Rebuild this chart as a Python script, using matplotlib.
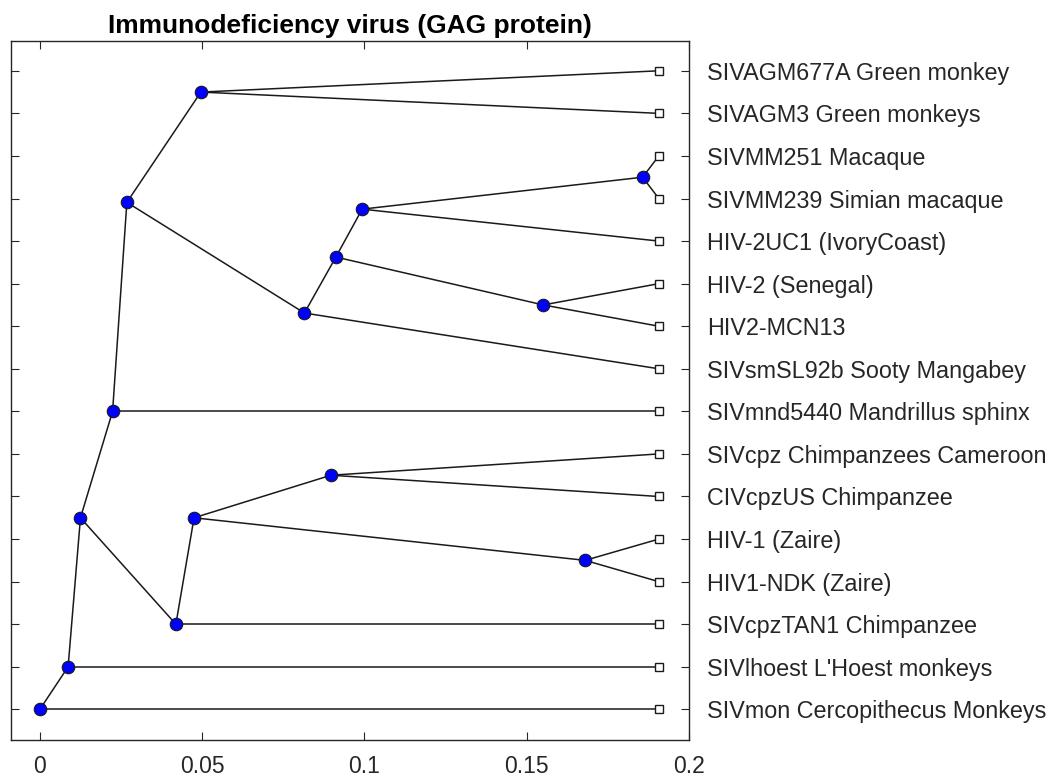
import numpy as np
import matplotlib.pyplot as plt

leaf_names = [
    "SIVAGM677A Green monkey",
    "SIVAGM3 Green monkeys",
    "SIVMM251 Macaque",
    "SIVMM239 Simian macaque",
    "HIV-2UC1 (IvoryCoast)",
    "HIV-2 (Senegal)",
    "HIV2-MCN13",
    "SIVsmSL92b Sooty Mangabey",
    "SIVmnd5440 Mandrillus sphinx",
    "SIVcpz Chimpanzees Cameroon",
    "CIVcpzUS Chimpanzee",
    "HIV-1 (Zaire)",
    "HIV1-NDK (Zaire)",
    "SIVcpzTAN1 Chimpanzee",
    "SIVlhoest L'Hoest monkeys",
    "SIVmon Cercopithecus Monkeys",
]
leaf_x = [0.1907] * 16
leaf_y = list(range(1, 17))

# internal nodes (x = distance from root, y = row position)
node_x = [0.0496, 0.1857, 0.0993, 0.1551, 0.0912, 0.0815, 0.0268, 0.0224,
          0.0897, 0.168, 0.0475, 0.0419, 0.0125, 0.0087, 0.0]
node_y = [1.5, 3.5, 4.25, 6.5, 5.375, 6.69, 4.09, 9.0,
          10.5, 12.5, 11.5, 14.0, 11.5, 15.0, 16.0]
# children of each internal node: "L<i>" leaf, "N<i>" internal node
node_children = [
    ("L0", "L1"), ("L2", "L3"), ("N1", "L4"), ("L5", "L6"), ("N2", "N3"),
    ("N4", "L7"), ("N0", "N5"), ("N6", "L8"), ("L9", "L10"), ("L11", "L12"),
    ("N8", "N9"), ("N10", "L13"), ("N7", "N11"), ("N12", "L14"), ("N13", "L15"),
]

xticks = [0, 0.05, 0.1, 0.15, 0.2]
xtick_labels = ["0", "0.05", "0.1", "0.15", "0.2"]


def pos(key):
    i = int(key[1:])
    if key[0] == "L":
        return leaf_x[i], leaf_y[i]
    return node_x[i], node_y[i]


plt.rcParams['font.family'] = ['Liberation Sans', 'DejaVu Sans']
gray = '#262626'

fig = plt.figure(figsize=(10.58, 7.82), dpi=100)
ax = fig.add_axes([11 / 1058, 42 / 782, 678 / 1058, 699 / 782])

for i, (a, b) in enumerate(node_children):
    px, py = node_x[i], node_y[i]
    for c in (a, b):
        cx, cy = pos(c)
        ax.plot([px, cx], [py, cy], color='#1a1a1a', lw=1.1, zorder=1)

ax.plot(node_x, node_y, 'o', ms=9, mfc='#0000ff', mec='#1a1a1a', mew=0.8,
        ls='none', zorder=3)
ax.plot(leaf_x, leaf_y, 's', ms=5.5, mfc='white', mec='#1a1a1a', mew=1.0,
        ls='none', zorder=3)

ax.set_xlim(-0.0089, 0.2)
ax.set_ylim(16.72, 0.3)
ax.set_xticks(xticks)
ax.set_xticklabels(xtick_labels)
ax.set_yticks(leaf_y)
ax.set_yticklabels(leaf_names)
ax.yaxis.tick_right()
ax.tick_params(axis='both', direction='in', length=6, width=0.8, colors=gray,
               top=True, bottom=True, left=True, right=True,
               labelleft=False, labelright=True)
ax.tick_params(axis='y', pad=13, labelsize=16.8)
ax.tick_params(axis='x', pad=11, labelsize=16.5)
for s in ax.spines.values():
    s.set_color(gray)
    s.set_linewidth(1.0)

ax.set_title("Immunodeficiency virus (GAG protein)", fontsize=19,
             fontweight='bold', color='black', pad=6)

fig.savefig("out.png", dpi=100)
